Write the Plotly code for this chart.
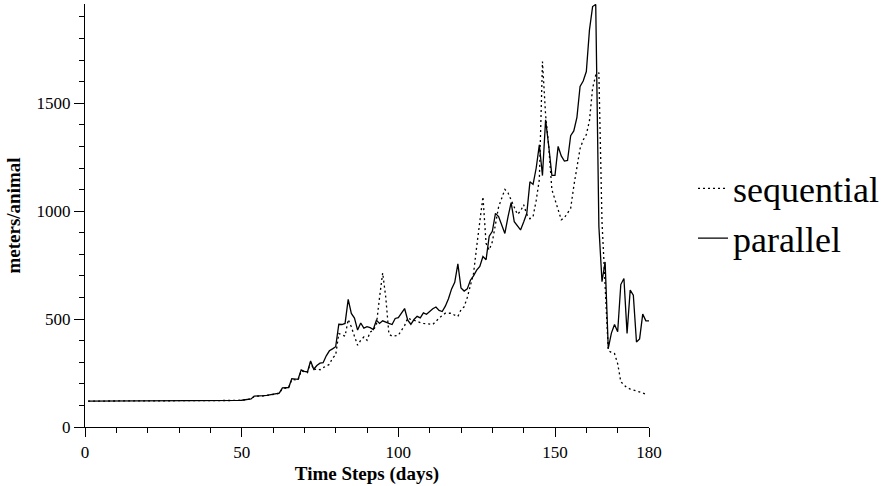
import plotly.graph_objects as go

# Time steps (days) for each series
days_parallel = list(range(1, 181))
days_sequential = list(range(1, 180))

# Mean distance travelled per animal (meters/animal), parallel run
parallel = [
    120, 120, 120, 120, 120, 120, 120, 120, 120, 120,
    120, 120, 120, 120, 120, 120, 120, 120, 120, 120,
    120, 120, 120, 120, 120, 120, 120, 120, 120, 120,
    120, 120, 120, 120, 120, 120, 120, 120, 120, 120,
    120, 120, 120, 120, 120, 120, 121, 122, 123, 124,
    126, 128, 130, 143, 143, 142, 145, 147, 150, 153,
    155, 157, 181, 182, 183, 224, 222, 221, 265, 258,
    255, 306, 268, 285, 296, 298, 330, 353, 362, 372,
    476, 475, 480, 591, 526, 505, 449, 482, 458, 465,
    460, 452, 495, 480, 492, 485, 480, 475, 503, 507,
    530, 549, 495, 476, 498, 513, 506, 529, 522, 535,
    548, 556, 540, 535, 560, 594, 640, 670, 756, 644,
    630, 640, 680, 700, 727, 744, 790, 775, 884, 907,
    990, 975, 940, 897, 974, 1040, 951, 930, 913, 950,
    990, 1136, 1124, 1200, 1307, 1165, 1423, 1302, 1166, 1166,
    1300, 1256, 1232, 1235, 1350, 1372, 1435, 1578, 1603, 1647,
    1840, 1948, 1958, 930, 673, 765, 364, 435, 475, 441,
    660, 688, 433, 634, 611, 394, 408, 523, 492, 492,
]

# Mean distance travelled per animal (meters/animal), sequential run
sequential = [
    120, 120, 120, 120, 120, 120, 120, 120, 120, 120,
    120, 120, 120, 120, 120, 120, 120, 120, 120, 120,
    120, 120, 120, 120, 120, 120, 120, 120, 120, 120,
    120, 120, 120, 120, 120, 120, 120, 120, 120, 120,
    120, 120, 120, 120, 120, 120, 121, 122, 123, 124,
    126, 128, 130, 142, 142, 142, 144, 146, 149, 152,
    154, 156, 178, 180, 182, 220, 220, 218, 260, 255,
    252, 300, 265, 270, 265, 275, 282, 290, 320, 333,
    433, 428, 421, 498, 464, 420, 379, 402, 417, 402,
    440, 448, 474, 600, 714, 600, 430, 421, 423, 425,
    448, 470, 505, 498, 495, 488, 484, 480, 478, 476,
    475, 490, 505, 517, 527, 527, 527, 518, 512, 543,
    557, 600, 650, 711, 835, 943, 1067, 851, 820, 858,
    940, 1020, 1060, 1101, 1085, 1052, 1017, 985, 1000, 1030,
    985, 965, 975, 1050, 1147, 1693, 1446, 1300, 1100, 1051,
    1000, 960, 970, 990, 1013, 1116, 1200, 1290, 1330, 1355,
    1420, 1570, 1630, 1642, 950, 650, 355, 345, 340, 294,
    210, 195, 182, 176, 172, 168, 163, 158, 152,
]

# Axis ticks
x_major = [0, 50, 100, 150, 180]
x_labels = ["0", "50", "100", "150", "180"]
x_minor = [10, 20, 30, 40, 60, 70, 80, 90, 110, 120, 130, 140, 160, 170]
y_major = [0, 500, 1000, 1500]
y_minor = [100, 200, 300, 400, 600, 700, 800, 900, 1100, 1200, 1300, 1400,
           1600, 1700, 1800, 1900]

SERIF = "Liberation Serif"

fig = go.Figure()
fig.add_trace(go.Scatter(
    x=days_sequential, y=sequential, mode="lines", name="sequential",
    line=dict(color="black", width=1.3, dash="2px,3px"),
))
fig.add_trace(go.Scatter(
    x=days_parallel, y=parallel, mode="lines", name="parallel",
    line=dict(color="black", width=1.3),
))

axis_common = dict(
    showline=True, linecolor="black", linewidth=1.3,
    showgrid=False, zeroline=False,
    ticks="outside", tickcolor="black", tickwidth=1.2,
    tickfont=dict(family=SERIF, size=17, color="black"),
)

fig.update_xaxes(
    range=[0, 180],
    tickmode="array", tickvals=x_major, ticktext=x_labels, ticklen=9,
    minor=dict(tickmode="array", tickvals=x_minor, ticks="outside",
               ticklen=5, tickcolor="black", tickwidth=1.2),
    title=dict(text="<b>Time Steps (days)</b>",
               font=dict(family=SERIF, size=19, color="black"), standoff=6),
    **axis_common,
)
fig.update_yaxes(
    range=[0, 1960],
    tickmode="array", tickvals=y_major, ticklen=10,
    minor=dict(tickmode="array", tickvals=y_minor, ticks="outside",
               ticklen=5, tickcolor="black", tickwidth=1.2),
    title=dict(text="<b>meters/animal</b>",
               font=dict(family=SERIF, size=19, color="black"), standoff=10),
    **axis_common,
)

fig.update_layout(
    width=894, height=486, autosize=False,
    margin=dict(l=85, r=245, t=4, b=59),
    plot_bgcolor="white", paper_bgcolor="white",
    font=dict(family=SERIF, color="black"),
    showlegend=True,
    legend=dict(
        x=1.078, xanchor="left", y=0.635, yanchor="top",
        font=dict(family=SERIF, size=36, color="black"),
        bgcolor="rgba(0,0,0,0)", borderwidth=0,
        tracegroupgap=0, itemwidth=30,
    ),
)

fig.write_html("out.html")
